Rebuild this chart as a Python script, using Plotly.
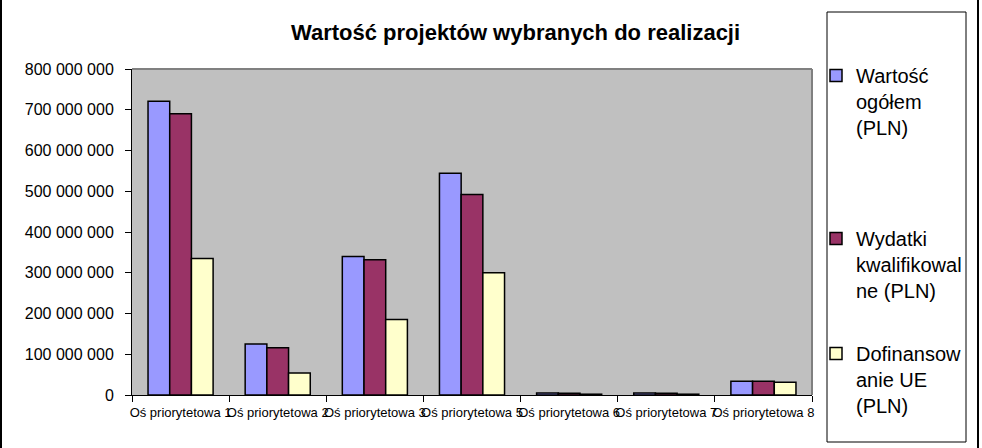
import plotly.graph_objects as go

categories = ["Oś priorytetowa 1", "Oś priorytetowa 2", "Oś priorytetowa 3",
              "Oś priorytetowa 5", "Oś priorytetowa 6", "Oś priorytetowa 7",
              "Oś priorytetowa 8"]
wartosc = [721_000_000, 125_000_000, 340_000_000, 544_000_000, 5_000_000, 5_000_000, 34_000_000]
wydatki = [690_000_000, 116_000_000, 332_000_000, 492_000_000, 4_500_000, 4_500_000, 34_000_000]
dofin = [335_000_000, 54_000_000, 185_000_000, 300_000_000, 2_000_000, 2_000_000, 31_000_000]
series_names = ["Wartość<br>ogółem<br>(PLN)", "Wydatki<br>kwalifikowal<br>ne (PLN)",
                "Dofinansow<br>anie UE<br>(PLN)"]
colors = ["#9999FF", "#993366", "#FFFFCC"]
yticks = [0, 100_000_000, 200_000_000, 300_000_000, 400_000_000, 500_000_000,
          600_000_000, 700_000_000, 800_000_000]

W, H = 982, 448
L, R, T, B = 132, 812, 69, 395

fig = go.Figure()
legends = ["legend", "legend2", "legend3"]
for vals, name, col, lg in zip([wartosc, wydatki, dofin], series_names, colors, legends):
    fig.add_trace(go.Bar(x=categories, y=vals, name=name, legend=lg,
                         marker=dict(color=col, line=dict(color="black", width=1.5))))

leg_common = dict(font=dict(family="Arial, Liberation Sans", size=20, color="black"),
                  bgcolor="rgba(0,0,0,0)", borderwidth=0, xref="container", yref="container",
                  xanchor="left", yanchor="top", itemwidth=30, traceorder="normal",
                  valign="top")


def px_x(x):
    return (x - L) / (R - L)


def px_y(y):
    return (B - y) / (B - T)


fig.update_layout(
    width=W, height=H,
    margin=dict(l=L, r=W - R, t=T, b=H - B, autoexpand=False),
    paper_bgcolor="white", plot_bgcolor="#C0C0C0",
    separators=", ",
    barmode="group", bargap=0.33, bargroupgap=0,
    title=dict(text="<b>Wartość projektów wybranych do realizacji</b>",
               font=dict(family="Arial, Liberation Sans", size=22, color="black"),
               x=0.525, xref="container", xanchor="center", y=1 - 32 / H, yref="container",
               yanchor="middle"),
    legend=dict(x=816 / W, y=1 - 56 / H, **leg_common),
    legend2=dict(x=816 / W, y=1 - 219 / H, **leg_common),
    legend3=dict(x=816 / W, y=1 - 334 / H, **leg_common),
    xaxis=dict(tickangle=0, tickson="boundaries", ticks="outside", ticklen=6,
               tickcolor="black", showline=True, linecolor="black", linewidth=1,
               ticklabelstandoff=5,
               tickfont=dict(family="Liberation Sans Narrow, Arial Narrow, Arial", size=13, color="black"),
               showgrid=False, mirror=False),
    yaxis=dict(range=[0, 800_000_000], tickvals=yticks, tickformat=",d",
               ticks="outside", ticklen=6, tickcolor="black", ticklabelstandoff=8,
               showline=True, linecolor="black", linewidth=1, showgrid=False, zeroline=False,
               tickfont=dict(family="Arial, Liberation Sans", size=16, color="black")),
    showlegend=True,
    shapes=[
        # plot area top/right gray border
        dict(type="line", xref="paper", yref="paper", x0=0, x1=1, y0=1, y1=1,
             line=dict(color="#808080", width=2)),
        dict(type="line", xref="paper", yref="paper", x0=1, x1=1, y0=0, y1=1,
             line=dict(color="#808080", width=2)),
        # legend box
        dict(type="rect", xref="paper", yref="paper",
             x0=px_x(827), x1=px_x(966), y0=px_y(442), y1=px_y(12),
             line=dict(color="black", width=1), fillcolor="rgba(0,0,0,0)", layer="above"),
        # outer chart side borders
        dict(type="line", xref="paper", yref="paper",
             x0=px_x(1), x1=px_x(1), y0=px_y(448), y1=px_y(0),
             line=dict(color="black", width=2)),
        dict(type="line", xref="paper", yref="paper",
             x0=px_x(978), x1=px_x(978), y0=px_y(448), y1=px_y(0),
             line=dict(color="black", width=2)),
    ],
)

fig.write_html("out.html", config={"displayModeBar": False},
               post_script="document.body.style.margin='0';")
